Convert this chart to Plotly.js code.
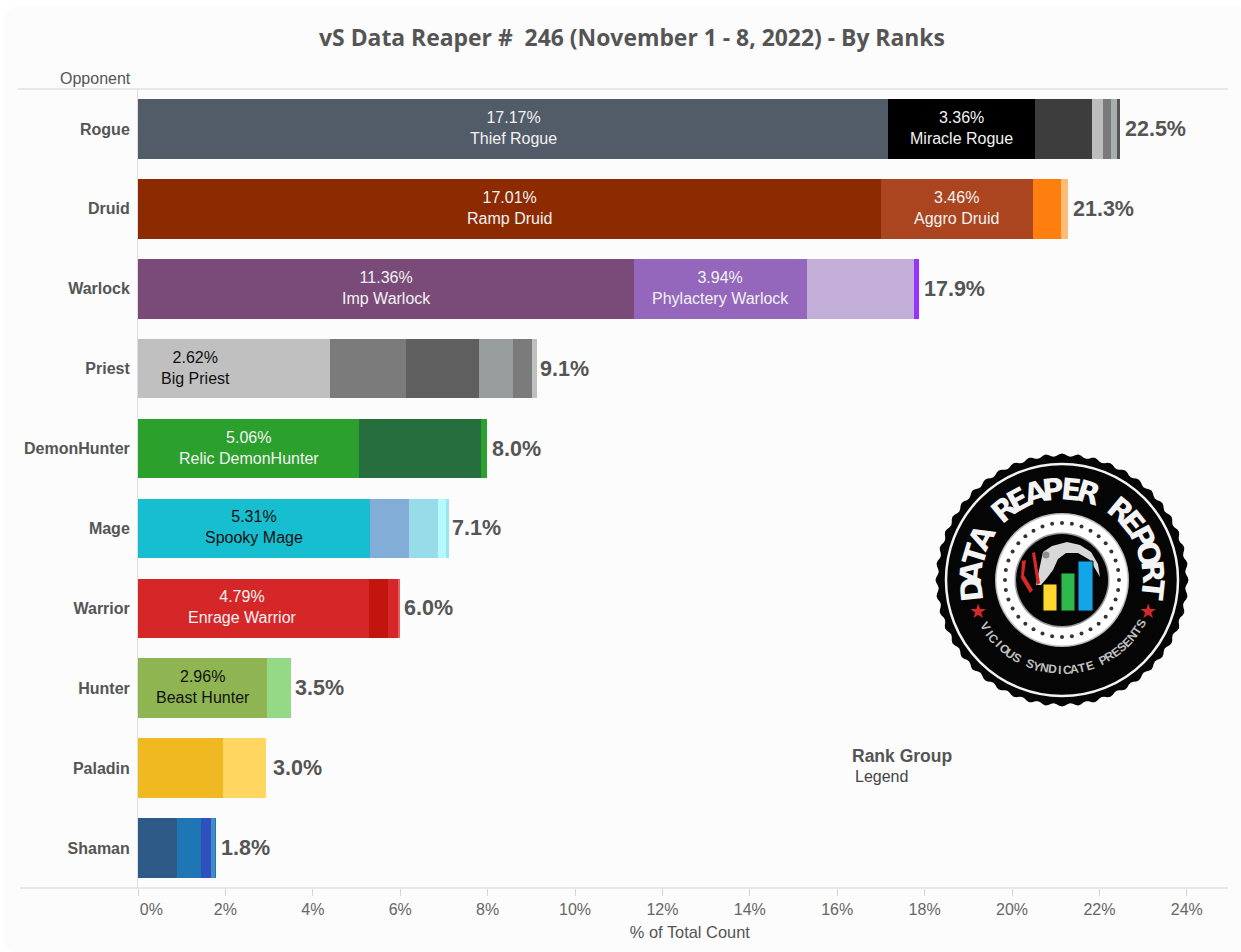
<!DOCTYPE html>
<html><head><meta charset="utf-8">
<script src="https://cdn.plot.ly/plotly-3.0.1.min.js"></script>
<style>
html,body{margin:0;padding:0;background:#fff;width:1241px;height:952px;overflow:hidden}
#panel{position:absolute;left:8px;top:8px;width:1233px;height:944px;background:#fcfcfc;border-radius:12px 0 0 12px;box-shadow:-2px 0 6px rgba(0,0,0,.03)}
#chart{position:absolute;left:0;top:0;width:1241px;height:952px}
</style></head><body>
<div id="panel"></div><div id="chart"></div>
<script>
const categories=["Rogue","Druid","Warlock","Priest","DemonHunter","Mage","Warrior","Hunter","Paladin","Shaman"];
const totals=[22.5,21.3,17.9,9.1,8.0,7.1,6.0,3.5,3.0,1.8];
const totalLabels=["22.5%","21.3%","17.9%","9.1%","8.0%","7.1%","6.0%","3.5%","3.0%","1.8%"];
const seg1=[17.17,17.01,11.36,2.62,5.06,5.31,4.79,2.96,1.95,0.90];
const seg2=[3.36,3.46,3.94,1.77,2.79,0.89,0.50,0.53,0.99,0.54];
const seg3=[1.30,0.65,2.46,1.74,0.07,0.67,0.44,0,0,0.24];
const seg4=[0.25,0.17,0.11,1.68,0.06,0.18,0.21,0,0,0.08];
const seg5=[0.19,0,0,0.77,0,0.06,0.06,0,0,0.02];
const seg6=[0.14,0,0,0.44,0,0,0,0,0,0];
const seg7=[0.07,0,0,0.10,0,0,0,0,0,0];
const segments=[seg1,seg2,seg3,seg4,seg5,seg6,seg7];
const colors1=["#525c69","#8c2b02","#7a4a78","#c0c0c0","#2ca02c","#17becf","#d62728","#8fb452","#f0b921","#2e5a87"];
const colors2=["#000000","#ab4520","#9467bd","#c0c0c0","#266e3d","#82add6","#d62728","#94d986","#ffd65f","#1f76b4"];
const colors3=["#3d3d3d","#ff7f0e","#c2aed6","#7b7b7b","#2ca02c","#97dce8","#c3150f","#94d986","#ffd65f","#3050bd"];
const colors4=["#bdbdbd","#ffbb78","#9633ff","#5f5f5f","#2ca02c","#b5fbfd","#d62728","#94d986","#ffd65f","#3f8cc8"];
const colors5=["#7a7a7a","#ffbb78","#9633ff","#979c9c","#2ca02c","#9ee4ee","#e85e5e","#94d986","#ffd65f","#1f76b4"];
const colors6=["#a6aeae","#ffbb78","#9633ff","#7b7b7b","#2ca02c","#9ee4ee","#e85e5e","#94d986","#ffd65f","#1f76b4"];
const colors7=["#555555","#ffbb78","#9633ff","#c0c0c0","#2ca02c","#9ee4ee","#e85e5e","#94d986","#ffd65f","#1f76b4"];
const segColors=[colors1,colors2,colors3,colors4,colors5,colors6,colors7];
const labels1=["17.17%<br>Thief Rogue","17.01%<br>Ramp Druid","11.36%<br>Imp Warlock","2.62%<br>Big Priest","5.06%<br>Relic DemonHunter","5.31%<br>Spooky Mage","4.79%<br>Enrage Warrior","2.96%<br>Beast Hunter","",""];
const labels2=["3.36%<br>Miracle Rogue","3.46%<br>Aggro Druid","3.94%<br>Phylactery Warlock","","","","","","",""];
const labelColors1=["#f2f2f2","#f2f2f2","#f2f2f2","#111","#f2f2f2","#111","#f2f2f2","#111","#fff","#fff"];
const tickValues=[0,2,4,6,8,10,12,14,16,18,20,22,24];
const tickLabels=["\u00a0\u00a0\u00a0\u00a0\u00a0\u00a00%","2%","4%","6%","8%","10%","12%","14%","16%","18%","20%","22%","24%"];

const SANS='"Liberation Sans",Arial,sans-serif';
const traces=segments.map((vals,i)=>({
  type:'bar',orientation:'h',y:categories,x:vals,
  marker:{color:segColors[i],line:{width:0}},
  hoverinfo:'skip',showlegend:false
}));

/* plot area runs 138..1228 x 89..888 */
const xp=v=>(v-138)/1090, yp=v=>1-(v-89)/799;
const cx=1062,cy=580,R=125;
function circ(r,fill,line,lw){return {type:'circle',xref:'paper',yref:'paper',layer:'above',
  x0:xp(cx-r),x1:xp(cx+r),y0:yp(cy+r),y1:yp(cy-r),fillcolor:fill,line:{color:line||fill,width:lw||0}};}
function circ2(x,y,r,fill){return {type:'circle',xref:'paper',yref:'paper',layer:'above',x0:xp(x-r),x1:xp(x+r),y0:yp(y+r),y1:yp(y-r),fillcolor:fill,line:{width:0}};}
function rect(x0,y0,x1,y1,fill){return {type:'rect',xref:'paper',yref:'paper',layer:'above',x0:xp(x0),x1:xp(x1),y0:yp(y1),y1:yp(y0),fillcolor:fill,line:{color:'#111',width:1}};}
function hline(x0,x1,y,c){return {type:'line',xref:'paper',yref:'paper',layer:'below',x0:xp(x0),x1:xp(x1),y0:yp(y),y1:yp(y),line:{color:c,width:1}};}
function poly(pts,fill){return {type:'path',xref:'paper',yref:'paper',layer:'above',path:pts.map((p,i)=>(i?'L':'M')+xp(p[0]).toFixed(5)+','+yp(p[1]).toFixed(5)).join(' ')+' Z',fillcolor:fill,line:{width:0}};}
const edge=[];
for(let k=0;k<288;k++){const a=k/288*2*Math.PI,r=R+1.5*Math.cos(k*Math.PI/3);edge.push([cx+r*Math.cos(a),cy+r*Math.sin(a)]);}
const shapes=[hline(18,1228,89,'#d4d4d4'),hline(20,1228,888,'#d4d4d4'),
 poly(edge,'#050505'),
 circ(116,'rgba(0,0,0,0)','#f2f2f2',2.5),circ(67,'#bdbdbd'),circ(65.5,'#ffffff'),circ(47.5,'#9a9a9a'),circ(46,'#050505')];
for(let k=0;k<36;k++){const a=k/36*2*Math.PI,r=57,px=cx+r*Math.cos(a),py=cy+r*Math.sin(a);
  shapes.push(circ2(px,py,2,'#333'));}
shapes.push(poly([[1043,552],[1052,546],[1067,542],[1080,545],[1091,552],[1098,564],[1100,577],[1090,560],[1078,553],[1066,553],[1058,559],[1053,570],[1047,578],[1041,585],[1036,585],[1040,566]],'#d8d8d8'));
shapes.push(circ2(1046,555,3.5,'#8f8f8f'));
shapes.push(rect(1043,584,1057,611,'#fdd72e'),rect(1061,573,1075,611,'#2cb84a'),rect(1078,561,1093,611,'#12a5e8'));
shapes.push(poly([[1022,561],[1026,560],[1024,575],[1033,590],[1030,593],[1021,578]],'#d82828'));
shapes.push(poly([[1032,553],[1035,552],[1040,583],[1037,585]],'#d82828'));

const ann=(x,y,text,size,color,extra)=>Object.assign({xref:'paper',yref:'paper',x:xp(x),y:yp(y),text,showarrow:false,
  font:Object.assign({family:SANS,size,color},extra&&extra.font),xanchor:'center',yanchor:'middle'},extra&&extra.a);
const annotations=[
 ann(133,79,'Opponent',16,'#555',{a:{xanchor:'right'}}),
 ann(850,756,'<b>Rank Group</b>',17.5,'#555',{a:{xanchor:'left'}}),
 ann(853,776,'Legend',16,'#444',{a:{xanchor:'left'}})
];
categories.forEach((c,i)=>{
  annotations.push({xref:'x',yref:'y',x:totals[i],y:c,text:'<b>'+totalLabels[i]+'</b>',showarrow:false,xanchor:'left',yanchor:'middle',xshift:2,
    font:{family:SANS,size:21.5,color:'#555'}});
  if(labels1[i])annotations.push({xref:'x',yref:'y',x:seg1[i]/2,y:c,text:labels1[i],showarrow:false,xanchor:'center',yanchor:'middle',yshift:1,
    font:{family:SANS,size:16,color:labelColors1[i]}});
  if(labels2[i])annotations.push({xref:'x',yref:'y',x:seg1[i]+seg2[i]/2,y:c,text:labels2[i],showarrow:false,xanchor:'center',yanchor:'middle',yshift:1,
    font:{family:SANS,size:16,color:'#f2f2f2'}});
});
function arc(str,r,startDeg,stepDeg,font,dir){
  [...str].forEach((ch,i)=>{ if(ch===' ')return;
    const d=startDeg+i*stepDeg,a=d*Math.PI/180;
    annotations.push(ann(cx+r*Math.cos(a),cy+r*Math.sin(a),ch,font.size,font.color,
      {font,a:{textangle:dir>0?d+90:d-90}}));
  });
}
arc('DATA REAPER REPORT',91,-186,11.3,{family:'"DejaVu Sans"',size:30,color:'#f4f4f4',weight:700,stretch:'condensed'},1);
arc('VICIOUS SYNDICATE PRESENTS',90,149,-4.8,{family:'"Liberation Sans"',size:12,color:'#c0c0c0',weight:700},-1);
annotations.push(ann(978,611,'★',20,'#d62a2a'),ann(1148,611,'★',20,'#d62a2a'));

const layout={
 width:1241,height:952,autosize:false,paper_bgcolor:'rgba(0,0,0,0)',plot_bgcolor:'rgba(0,0,0,0)',
 margin:{l:138,r:13,t:89,b:64},barmode:'stack',bargap:0.255,showlegend:false,
 title:{text:'vS Data Reaper #\u00a0\u00a0246 (November 1 - 8, 2022) - By Ranks',x:632/1241,xanchor:'center',y:1-38/952,yanchor:'middle',
   font:{family:'"Open Sans",sans-serif',size:22.9,color:'#555',weight:700}},
 xaxis:{range:[0,1090/43.7],tickmode:'array',tickvals:tickValues,ticktext:tickLabels,showgrid:false,zeroline:false,showline:false,
   ticks:'outside',ticklen:7,tickcolor:'#d4d4d4',tickwidth:1,tickfont:{family:SANS,size:16,color:'#666'},
   title:{text:'\u200b\u00a0\u00a0\u00a0% of Total Count',font:{family:SANS,size:16.4,color:'#555'},standoff:9}},
 yaxis:{type:'category',categoryorder:'array',categoryarray:categories,autorange:'reversed',showgrid:false,zeroline:false,showline:true,linecolor:'#dedede',linewidth:1,
   ticks:'',ticklabelstandoff:4,tickfont:{family:SANS,size:16,color:'#555',weight:700}},
 shapes,annotations,
 font:{family:SANS}
};
Plotly.newPlot('chart',traces,layout,{displayModeBar:false,staticPlot:true});
</script></body></html>
